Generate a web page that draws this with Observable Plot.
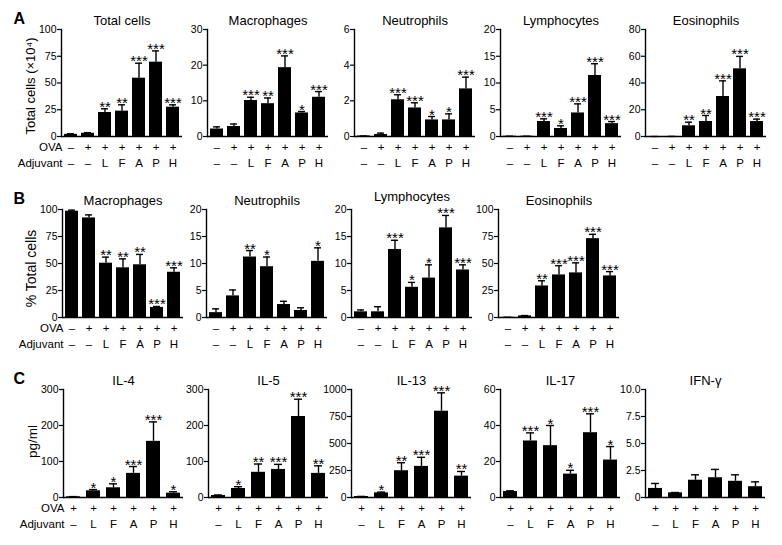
<!DOCTYPE html>
<html>
<head>
<meta charset="utf-8">
<script src="https://cdn.jsdelivr.net/npm/d3@7"></script>
<script src="https://cdn.jsdelivr.net/npm/@observablehq/plot@0.6"></script>
<style>
  body { margin: 0; background: #fff; }
  #wrap { position: relative; width: 782px; height: 545px; overflow: hidden; background: #fff; }
  .panel { position: absolute; }
  .panel svg { overflow: visible; }
</style>
</head>
<body>
<div id="wrap"></div>
<script>
// ---------- category labels ----------
const ovaAB = ["–", "+", "+", "+", "+", "+", "+"];
const adjAB = ["–", "–", "L", "F", "A", "P", "H"];
const ovaC = ["+", "+", "+", "+", "+", "+"];
const adjC = ["–", "L", "F", "A", "P", "H"];

// ---------- Row A: total cells (x10^4) ----------
const totalMean = [2, 3, 22.4, 23.7, 54.5, 69.5, 27.4];
const totalErr  = [2.6, 3.6, 25.9, 29.6, 68.5, 80, 29.6];
const totalSig  = ["", "", "**", "**", "***", "***", "***"];

const macAMean = [2.1, 2.8, 10.1, 9.2, 19.3, 6.6, 11.0];
const macAErr  = [2.7, 3.5, 11.0, 10.8, 22.6, 7.0, 12.6];
const macASig  = ["", "", "***", "**", "***", "*", "***"];

const neuAMean = [0.03, 0.11, 2.06, 1.6, 0.93, 0.93, 2.67];
const neuAErr  = [0.03, 0.19, 2.34, 1.89, 1.12, 1.27, 3.33];
const neuASig  = ["", "", "***", "***", "*", "*", "***"];

const lymAMean = [0.05, 0.05, 2.8, 1.5, 4.4, 11.4, 2.4];
const lymAErr  = [0.05, 0.05, 3.3, 2.0, 6.1, 13.6, 2.8];
const lymASig  = ["", "", "***", "*", "***", "***", "***"];

const eosAMean = [0, 0.05, 8, 11.2, 29.9, 50.6, 11.2];
const eosAErr  = [0, 0.05, 10.7, 15.7, 41.6, 59.9, 13];
const eosASig  = ["", "", "**", "**", "***", "***", "***"];

// ---------- Row B: % total cells ----------
const macBMean = [98.4, 92.2, 50.3, 46, 48.8, 9.3, 41.9];
const macBErr  = [99.4, 95, 55.9, 54.3, 58.4, 10.2, 46];
const macBSig  = ["", "", "**", "**", "**", "***", "***"];

const neuBMean = [0.9, 4.0, 11.2, 9.4, 2.4, 1.3, 10.4];
const neuBErr  = [1.6, 5.1, 12.4, 11.2, 3.0, 1.8, 12.9];
const neuBSig  = ["", "", "**", "*", "", "", "*"];

const lymBMean = [1.05, 1.05, 12.6, 5.6, 7.3, 16.6, 8.8];
const lymBErr  = [1.4, 2.0, 14.3, 6.5, 9.75, 18.9, 9.75];
const lymBSig  = ["", "", "***", "*", "*", "***", "***"];

const eosBMean = [0.2, 1.5, 29.2, 39.4, 41.3, 73, 38.5];
const eosBErr  = [0.2, 1.8, 34, 48, 50.6, 77, 42.5];
const eosBSig  = ["", "", "**", "***", "***", "***", "***"];

// ---------- Row C: cytokines (pg/ml) ----------
const il4Mean = [2, 18.6, 27, 67, 156, 12];
const il4Err  = [2.5, 22, 38, 86, 210, 16];
const il4Sig  = ["", "*", "*", "***", "***", "*"];

const il5Mean = [5.6, 25, 70, 78, 225, 67];
const il5Err  = [7, 30, 93, 92, 273, 88];
const il5Sig  = ["", "*", "**", "***", "***", "**"];

const il13Mean = [9, 43, 248, 288, 799, 198];
const il13Err  = [10, 50, 322, 372, 969, 241];
const il13Sig  = ["", "*", "**", "***", "***", "**"];

const il17Mean = [3.3, 31.4, 28.8, 13, 36, 20.8];
const il17Err  = [3.7, 35.9, 40, 15.1, 46.5, 28.3];
const il17Sig  = ["", "***", "*", "*", "***", "*"];

const ifngMean = [0.84, 0.43, 1.6, 1.83, 1.5, 1.0];
const ifngErr  = [1.3, 0.46, 2.1, 2.6, 2.1, 1.45];
const ifngSig  = ["", "", "", "", "", ""];

// ---------- tick values ----------
const ticks0to100 = [0, 25, 50, 75, 100];
const ticks0to30 = [0, 10, 20, 30];
const ticks0to6 = [0, 2, 4, 6];
const ticks0to20 = [0, 5, 10, 15, 20];
const ticks0to80 = [0, 20, 40, 60, 80];
const ticks0to300 = [0, 100, 200, 300];
const ticks0to1000 = [0, 250, 500, 750, 1000];
const ticks0to60 = [0, 20, 40, 60];
const ticks0to10 = [0, 2.5, 5, 7.5, 10];

const FONT = "Arial, 'Liberation Sans', Helvetica, sans-serif";
const wrap = document.getElementById("wrap");

function panel(o) {
  const n = o.mean.length;
  const ml = o.first ? o.axisX : 40;
  const mr = 10, mt = 29, mb = 40;
  const fw = o.fw || 121;
  const fh = o.fh;
  const data = o.mean.map((v, i) => ({k: i, v, e: o.err[i], s: o.sig[i], ova: o.ova[i], adj: o.adj[i]}));
  const fmt = o.fmt || (d => String(d));
  const marks = [
    Plot.barY(data, {x: "k", y: "v", fill: "#000"}),
    Plot.ruleX(data, {x: "k", y1: "v", y2: "e", stroke: "#000", strokeWidth: 1.4}),
    Plot.tickY(data, {x: "k", y: "e", stroke: "#000", strokeWidth: 1.4, insetLeft: 3, insetRight: 3}),
    Plot.text(data, {x: "k", y: "e", text: "s", lineAnchor: "bottom", dy: 3, fontSize: 15}),
    Plot.axisY({ticks: o.ticks, tickFormat: fmt, tickSize: 4, tickPadding: 1, label: null, strokeWidth: 1.2}),
    Plot.frame({anchor: "left", stroke: "#000", strokeWidth: 1.4}),
    Plot.ruleY([0], {stroke: "#000", strokeWidth: 1.4}),
    Plot.text(data, {x: "k", text: "ova", frameAnchor: "bottom", dy: 11, lineAnchor: "middle", fontSize: 11.5}),
    Plot.text(data, {x: "k", text: "adj", frameAnchor: "bottom", dy: 27, lineAnchor: "middle", fontSize: 11.5}),
    Plot.text([o.title], {text: d => d, frameAnchor: "top", textAnchor: "middle", dy: o.titleDy || -5, lineAnchor: "bottom", fontSize: 13})
  ];
  if (o.first) {
    marks.push(
      Plot.text(["OVA"], {text: d => d, frameAnchor: "bottom-left", textAnchor: "end", dx: 1, dy: 11, lineAnchor: "middle", fontSize: 11.5}),
      Plot.text(["Adjuvant"], {text: d => d, frameAnchor: "bottom-left", textAnchor: "end", dx: 1, dy: 27, lineAnchor: "middle", fontSize: 11.5}),
      Plot.text([o.yLabel], {text: d => d, frameAnchor: "left", textAnchor: "middle", rotate: -90, dx: -31, dy: o.yLabelDy || 0, lineAnchor: "middle", fontSize: o.yLabelSize || 13}),
      Plot.text([o.letter], {text: d => d, frameAnchor: "top-left", textAnchor: "start", dx: 13 - o.axisX, dy: -6, lineAnchor: "bottom", fontSize: 16, fontWeight: "bold"})
    );
  }
  const svg = Plot.plot({
    width: ml + fw + mr,
    height: mt + fh + mb,
    marginLeft: ml, marginRight: mr, marginTop: mt, marginBottom: mb,
    style: {background: "transparent", fontFamily: FONT, fontSize: "10.5px", color: "#000", overflow: "visible"},
    x: {type: "band", domain: d3.range(n), paddingInner: o.pi, paddingOuter: o.po, axis: null},
    y: {domain: [0, o.ticks[o.ticks.length - 1]], axis: null},
    marks
  });
  const div = document.createElement("div");
  div.className = "panel";
  div.style.left = (o.axisX - ml) + "px";
  div.style.top = o.top + "px";
  div.appendChild(svg);
  wrap.appendChild(div);
}

const AB = {pi: 0.235, po: 0.17};
const C = {pi: 0.3, po: 0.12, fw: 120};

// Row A
panel({...AB, first: true, letter: "A", axisX: 61, top: 0, fh: 107, title: "Total cells", mean: totalMean, err: totalErr, sig: totalSig, ticks: ticks0to100, ova: ovaAB, adj: adjAB, yLabel: "Total cells (×10⁴)", yLabelDy: 3, yLabelSize: 13});
panel({...AB, axisX: 207, top: 0, fh: 107, title: "Macrophages", mean: macAMean, err: macAErr, sig: macASig, ticks: ticks0to30, ova: ovaAB, adj: adjAB});
panel({...AB, axisX: 354, top: 0, fh: 107, title: "Neutrophils", mean: neuAMean, err: neuAErr, sig: neuASig, ticks: ticks0to6, ova: ovaAB, adj: adjAB});
panel({...AB, axisX: 500, top: 0, fh: 107, title: "Lymphocytes", mean: lymAMean, err: lymAErr, sig: lymASig, ticks: ticks0to20, ova: ovaAB, adj: adjAB});
panel({...AB, axisX: 645, top: 0, fh: 107, title: "Eosinophils", mean: eosAMean, err: eosAErr, sig: eosASig, ticks: ticks0to80, ova: ovaAB, adj: adjAB});

// Row B
panel({...AB, first: true, letter: "B", axisX: 62, top: 180, fh: 108, title: "Macrophages", mean: macBMean, err: macBErr, sig: macBSig, ticks: ticks0to100, ova: ovaAB, adj: adjAB, yLabel: "% Total cells", yLabelDy: 5, yLabelSize: 14});
panel({...AB, axisX: 206, top: 180, fh: 108, title: "Neutrophils", mean: neuBMean, err: neuBErr, sig: neuBSig, ticks: ticks0to20, ova: ovaAB, adj: adjAB});
panel({...AB, axisX: 351, top: 180, fh: 108, title: "Lymphocytes", titleDy: -9, mean: lymBMean, err: lymBErr, sig: lymBSig, ticks: ticks0to20, ova: ovaAB, adj: adjAB});
panel({...AB, axisX: 498, top: 180, fh: 108, title: "Eosinophils", mean: eosBMean, err: eosBErr, sig: eosBSig, ticks: ticks0to100, ova: ovaAB, adj: adjAB});

// Row C
panel({...C, first: true, letter: "C", axisX: 63, top: 360, fh: 108, title: "IL-4", mean: il4Mean, err: il4Err, sig: il4Sig, ticks: ticks0to300, ova: ovaC, adj: adjC, yLabel: "pg/ml", yLabelDy: -2, yLabelSize: 13.5});
panel({...C, axisX: 208, top: 360, fh: 108, title: "IL-5", mean: il5Mean, err: il5Err, sig: il5Sig, ticks: ticks0to300, ova: ovaC, adj: adjC});
panel({...C, axisX: 351, top: 360, fh: 108, title: "IL-13", mean: il13Mean, err: il13Err, sig: il13Sig, ticks: ticks0to1000, ova: ovaC, adj: adjC});
panel({...C, axisX: 500, top: 360, fh: 108, title: "IL-17", mean: il17Mean, err: il17Err, sig: il17Sig, ticks: ticks0to60, ova: ovaC, adj: adjC});
panel({...C, axisX: 645, top: 360, fh: 108, title: "IFN-γ", mean: ifngMean, err: ifngErr, sig: ifngSig, ticks: ticks0to10, fmt: d => d === 0 ? "0" : d.toFixed(1), ova: ovaC, adj: adjC});
</script>
</body>
</html>
